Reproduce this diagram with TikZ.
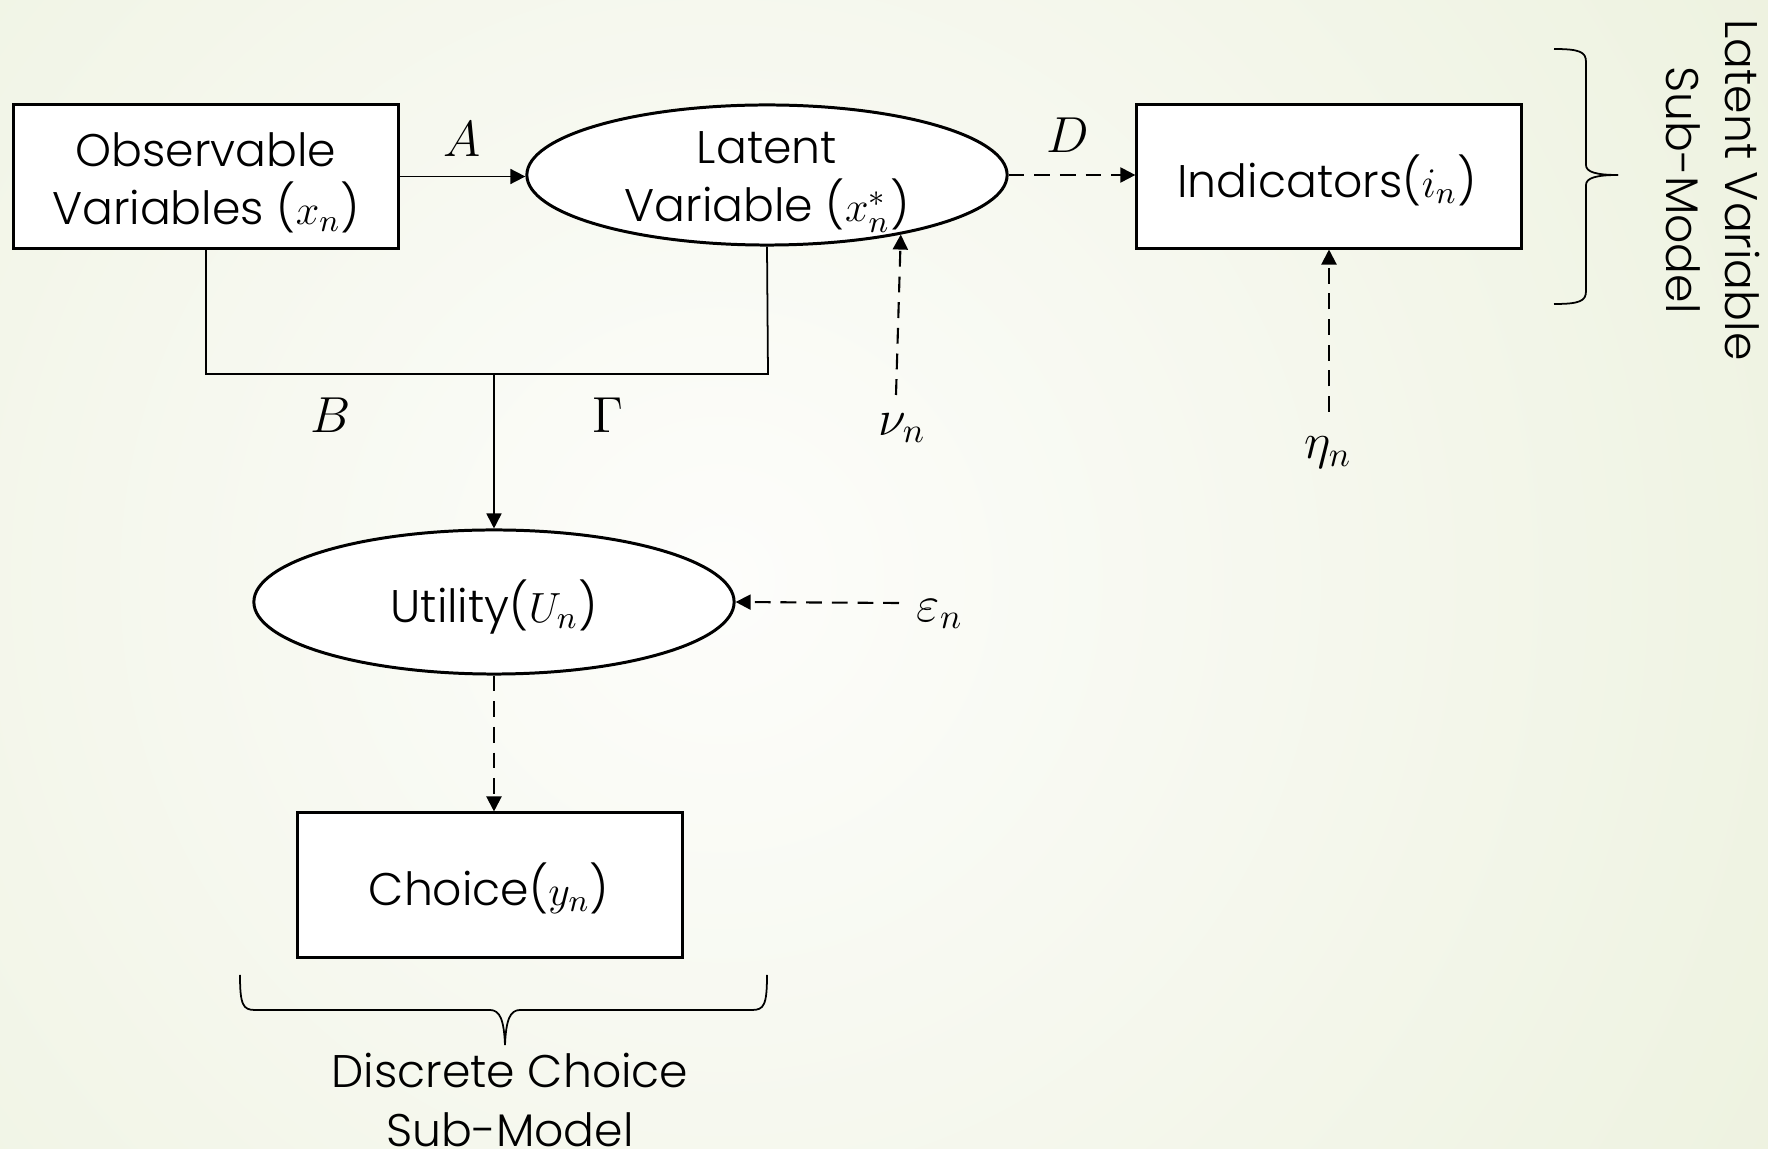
\documentclass[tikz,border=0pt]{standalone}
\usepackage{fontspec}
\newfontfamily\gfont{Poppins Light}
\usetikzlibrary{arrows.meta,shapes.geometric}
\definecolor{bgout}{RGB}{222,231,197}
\definecolor{bgin}{RGB}{253,253,251}
\tikzset{
  txt/.style={font=\gfont\fontsize{13}{16.6}\selectfont, align=center, inner sep=0pt},
  mlab/.style={font=\fontsize{14.5}{17}\selectfont, inner sep=0pt},
  boxnode/.style={draw, line width=0.85pt, fill=white, rectangle, inner sep=0pt},
  ellnode/.style={draw, line width=0.85pt, fill=white, ellipse, inner sep=0pt},
  tip/.style={-{Triangle[length=1.5mm,width=1.5mm]}},
  solidarr/.style={tip, line width=0.5pt},
  dasharr/.style={tip, line width=0.6pt, dash pattern=on 4.5pt off 2.8pt},
  thinline/.style={line width=0.5pt},
  bracestyle/.style={line width=0.5pt}
}
\begin{document}
\begin{tikzpicture}[x=0.01cm,y=-0.01cm]
\useasboundingbox (0,0) rectangle (1768,1149);
\begin{scope}
\clip (0,0) rectangle (1768,1149);
\fill[bgout] (0,0) rectangle (1768,1149);
\shade[inner color=bgin, outer color=bgout] (720,580) circle (24cm);
\end{scope}

% nodes
\node[boxnode, minimum width=3.85cm, minimum height=1.43cm] (obs) at (206,176.5) {};
\node[txt] (obstxt) at (206,183) {Observable\\Variables ($x_n$)};

\node[ellnode, minimum width=4.8cm, minimum height=1.4cm] (lat) at (767,175) {};
\node[txt] (lattxt) at (767,182) {Latent\\Variable ($x_n^*$)};

\node[boxnode, minimum width=3.84cm, minimum height=1.43cm] (ind) at (1329,176.5) {};
\node[txt] (indtxt) at (1327,180) {Indicators($i_n$)};

\node[ellnode, minimum width=4.8cm, minimum height=1.44cm] (util) at (494,602) {};
\node[txt] (utiltxt) at (494,607) {Utility($U_n$)};

\node[boxnode, minimum width=3.84cm, minimum height=1.44cm] (choice) at (490,885) {};
\node[txt] (choicetxt) at (489,888) {Choice($y_n$)};

% math labels
\node[mlab] (la) at (462,139) {$A$};
\node[mlab] (ld) at (1068,135) {$D$};
\node[mlab] (lb) at (331,415) {$B$};
\node[mlab] (lg) at (608,415) {$\Gamma$};
\node[mlab] (nu) at (902,428) {$\nu_n$};
\node[mlab] (eta) at (1328,453) {$\eta_n$};
\node[mlab] (eps) at (940,614) {$\varepsilon_n$};

% connectors
\draw[solidarr] (obs.east) -- (obs.east -| lat.west);
\draw[dasharr] (lat.east) -- (lat.east -| ind.west);

\coordinate (jl) at (206,374);
\coordinate (jr) at (768,374);
\coordinate (jm) at (494,374);
\draw[thinline] (obs.south) -- (jl) -- (jr) -- (lat.south);
\draw[solidarr] (jm) -- (util.north);

\coordinate (nustart) at (896,395);
\draw[dasharr] (nustart) -- (lat.-24.6);
\coordinate (etastart) at (1329,412);
\draw[dasharr] (etastart) -- (ind.south);
\coordinate (epsstart) at (899,603);
\draw[dasharr] (epsstart) -- (util.east);
\draw[dasharr] (util.south) -- (util.south |- choice.north);

% braces
\draw[bracestyle] (240,975) .. controls (240,1005) and (243,1010) .. (255,1010)
  -- (490,1010) .. controls (500,1010) and (504,1020) .. (505,1045);
\draw[bracestyle] (767,975) .. controls (767,1005) and (764,1010) .. (752,1010)
  -- (520,1010) .. controls (510,1010) and (506,1020) .. (505,1045);

\draw[bracestyle] (1554,49) .. controls (1580,49) and (1586,52) .. (1586,62)
  -- (1586,165) .. controls (1586,172) and (1596,175) .. (1618,175);
\draw[bracestyle] (1554,304) .. controls (1580,304) and (1586,301) .. (1586,291)
  -- (1586,185) .. controls (1586,178) and (1596,175) .. (1618,175);

\node[txt] (dcs) at (510,1100) {Discrete Choice\\Sub-Model};
\node[txt, rotate=-90] (lvs) at (1713,190) {Latent Variable\\Sub-Model};
\end{tikzpicture}
\end{document}
